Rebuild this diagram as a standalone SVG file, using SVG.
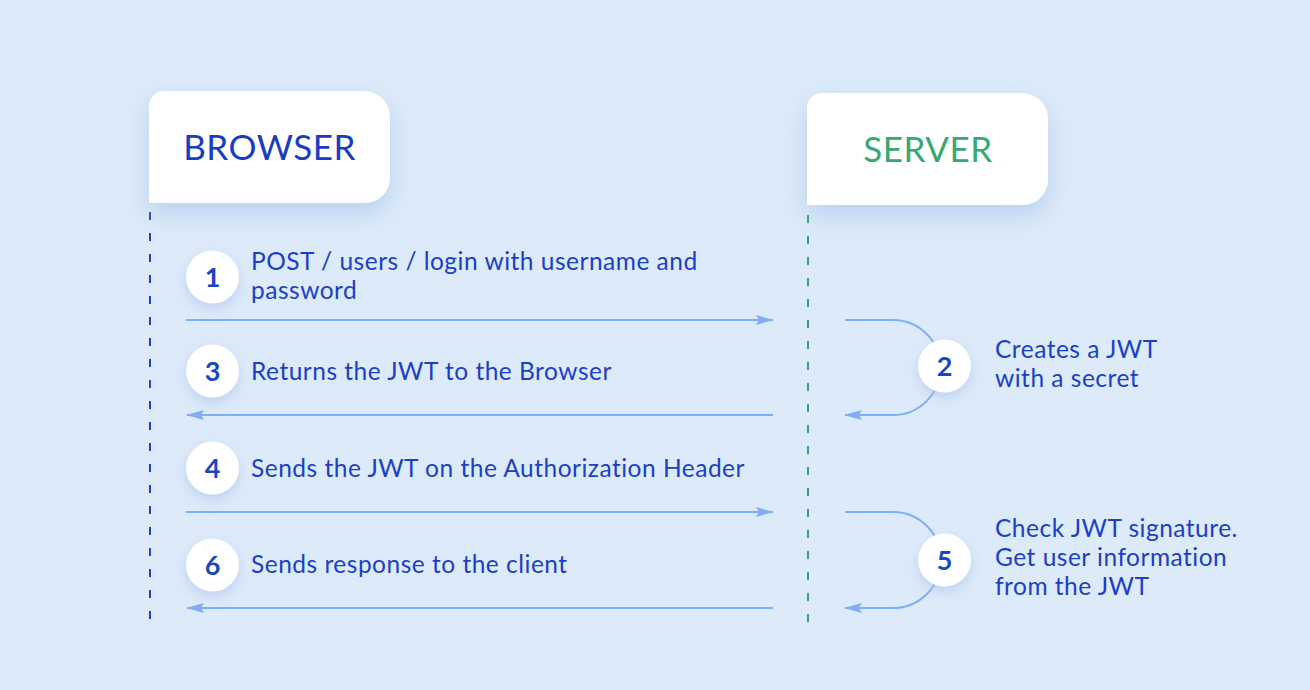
<svg xmlns="http://www.w3.org/2000/svg" width="1310" height="690" viewBox="0 0 1310 690">
  <style>
    .label { font-family: Lato, "Open Sans", "Liberation Sans", sans-serif; font-size: 24.5px; letter-spacing: 0.5px; fill: #1b3fc6; }
    .num { font-family: Lato, "Open Sans", "Liberation Sans", sans-serif; font-size: 27px; font-weight: 700; fill: #1c45c4; text-anchor: middle; }
    .title { font-family: Lato, "Open Sans", "Liberation Sans", sans-serif; font-size: 35px; letter-spacing: 0.5px; text-anchor: middle; }
    .msg { fill: none; stroke: #7eaef5; stroke-width: 2; }
    .badge { fill: #ffffff; filter: url(#softShadow); }
    .box { fill: #ffffff; filter: url(#boxShadow); }
  </style>
  <defs>
    <filter id="boxShadow" x="-30%" y="-30%" width="160%" height="180%">
      <feDropShadow dx="0" dy="10" stdDeviation="12" flood-color="#9dbbe6" flood-opacity="0.55"/>
    </filter>
    <filter id="softShadow" x="-50%" y="-50%" width="200%" height="200%">
      <feDropShadow dx="0" dy="5" stdDeviation="6" flood-color="#a9c3ea" flood-opacity="0.6"/>
    </filter>
    <marker id="arrow" viewBox="0 0 18 10" refX="17" refY="5" markerWidth="18" markerHeight="10" markerUnits="userSpaceOnUse" orient="auto">
      <path d="M0,0 L18,5 L0,10 L3,5 Z" fill="#7eaef5"/>
    </marker>
  </defs>

  <rect width="1310" height="690" fill="#dceaf9"/>

  <!-- lifelines -->
  <g id="lifelines">
    <line x1="150" y1="212" x2="150" y2="626" stroke="#1f3fd0" stroke-width="2" stroke-dasharray="8 13"/>
    <line x1="808" y1="215" x2="808" y2="626" stroke="#2aa574" stroke-width="2" stroke-dasharray="8 13"/>
  </g>

  <!-- participants -->
  <g id="browser">
    <path class="box" d="M164,91 H364 A26,26 0 0 1 390,117 V178 A25,25 0 0 1 365,203 H149 V106 A15,15 0 0 1 164,91 Z"/>
    <text class="title" x="269.5" y="160" fill="#1a3cc4">BROWSER</text>
  </g>
  <g id="server">
    <path class="box" d="M822,93 H1022 A26,26 0 0 1 1048,119 V180 A25,25 0 0 1 1023,205 H807 V108 A15,15 0 0 1 822,93 Z"/>
    <text class="title" x="928" y="162" fill="#38a874">SERVER</text>
  </g>

  <!-- connectors -->
  <g id="connectors">
    <line class="msg" x1="186" y1="320" x2="773" y2="320" marker-end="url(#arrow)"/>
    <path class="msg" d="M845,320 H893 A47.5,47.5 0 0 1 893,415 H845" marker-end="url(#arrow)"/>
    <line class="msg" x1="773" y1="415" x2="187" y2="415" marker-end="url(#arrow)"/>
    <line class="msg" x1="186" y1="512" x2="773" y2="512" marker-end="url(#arrow)"/>
    <path class="msg" d="M845,512 H893 A48,48 0 0 1 893,608 H845" marker-end="url(#arrow)"/>
    <line class="msg" x1="773" y1="608" x2="187" y2="608" marker-end="url(#arrow)"/>
  </g>

  <!-- steps -->
  <g id="step1">
    <circle class="badge" cx="212.5" cy="277" r="26.5"/>
    <text class="num" x="212.5" y="287">1</text>
    <text class="label" x="251" y="270">POST / users / login with username and</text>
    <text class="label" x="251" y="299">password</text>
  </g>
  <g id="step2">
    <circle class="badge" cx="944.5" cy="366" r="26.5"/>
    <text class="num" x="944.5" y="376">2</text>
    <text class="label" x="995" y="358">Creates a JWT</text>
    <text class="label" x="995" y="387">with a secret</text>
  </g>
  <g id="step3">
    <circle class="badge" cx="212.5" cy="371" r="26.5"/>
    <text class="num" x="212.5" y="381">3</text>
    <text class="label" x="251" y="380">Returns the JWT to the Browser</text>
  </g>
  <g id="step4">
    <circle class="badge" cx="212.5" cy="468" r="26.5"/>
    <text class="num" x="212.5" y="478">4</text>
    <text class="label" x="251" y="477">Sends the JWT on the Authorization Header</text>
  </g>
  <g id="step5">
    <circle class="badge" cx="944.5" cy="560" r="26.5"/>
    <text class="num" x="944.5" y="570">5</text>
    <text class="label" x="995" y="537">Check JWT signature.</text>
    <text class="label" x="995" y="566">Get user information</text>
    <text class="label" x="995" y="595">from the JWT</text>
  </g>
  <g id="step6">
    <circle class="badge" cx="212.5" cy="565" r="26.5"/>
    <text class="num" x="212.5" y="575">6</text>
    <text class="label" x="251" y="573">Sends response to the client</text>
  </g>
</svg>
